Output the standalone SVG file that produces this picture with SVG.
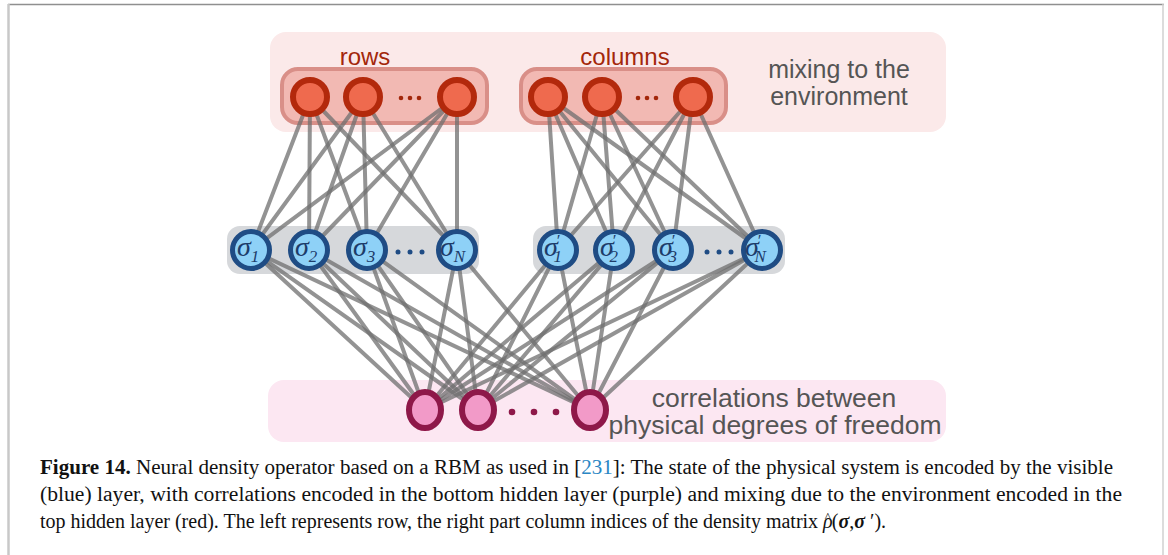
<svg xmlns="http://www.w3.org/2000/svg" width="1168" height="555" viewBox="0 0 1168 555">
<style>
.lbl{font-family:"Liberation Sans",Arial,sans-serif;fill:#555;text-anchor:middle}
.red{font-family:"Liberation Sans",Arial,sans-serif;fill:#a3270b;font-size:24px;text-anchor:middle}
.top{fill:#ef6a4e;stroke:#b3290c;stroke-width:6}
.vis{fill:#8ed1f7;stroke:#1f4c84;stroke-width:5}
.bot{fill:#f29ac8;stroke:#8e1849;stroke-width:6}
.sig{font-family:"Liberation Serif","Times New Roman",serif;font-style:italic;font-size:28px;fill:#1d3c6a}
.sub{font-size:17px}
.cap{font-family:"Liberation Serif","Times New Roman",serif;font-size:20px;fill:#111}
#connectors line{stroke:#6f6f6f;stroke-width:4;stroke-opacity:0.75;stroke-linecap:round}
</style>
<rect x="0" y="0" width="1168" height="555" fill="#fff"/>
<g id="frame">
<line x1="8" y1="4.5" x2="1164" y2="4.5" stroke="#8f8f8f" stroke-width="1.5"/>
<line x1="8.5" y1="4" x2="8.5" y2="555" stroke="#c8c8c8" stroke-width="2.5"/>
<line x1="1163" y1="4" x2="1163" y2="555" stroke="#d0d0d0" stroke-width="1.5"/>
</g>
<g id="backgrounds">
<rect x="270" y="32" width="676" height="100" rx="16" fill="#fbe9e9"/>
<rect x="282" y="69" width="205" height="54" rx="16" fill="#f2b9b3" stroke="#d98f88" stroke-width="4"/>
<rect x="521" y="69" width="205" height="54" rx="16" fill="#f2b9b3" stroke="#d98f88" stroke-width="4"/>
<rect x="227" y="226" width="252" height="48" rx="13" fill="#d6d8db"/>
<rect x="533" y="226" width="252" height="48" rx="13" fill="#d6d8db"/>
<rect x="268" y="380" width="678" height="62" rx="16" fill="#fce7f2"/>
</g>
<g id="connectors">
<line x1="310" y1="97" x2="251" y2="250"/><line x1="310" y1="97" x2="309" y2="250"/><line x1="310" y1="97" x2="367" y2="250"/><line x1="310" y1="97" x2="457" y2="250"/>
<line x1="363" y1="97" x2="251" y2="250"/><line x1="363" y1="97" x2="309" y2="250"/><line x1="363" y1="97" x2="367" y2="250"/><line x1="363" y1="97" x2="457" y2="250"/>
<line x1="457" y1="97" x2="251" y2="250"/><line x1="457" y1="97" x2="309" y2="250"/><line x1="457" y1="97" x2="367" y2="250"/><line x1="457" y1="97" x2="457" y2="250"/>
<line x1="548" y1="97" x2="558" y2="250"/><line x1="548" y1="97" x2="614" y2="250"/><line x1="548" y1="97" x2="673" y2="250"/><line x1="548" y1="97" x2="762" y2="250"/>
<line x1="602" y1="97" x2="558" y2="250"/><line x1="602" y1="97" x2="614" y2="250"/><line x1="602" y1="97" x2="673" y2="250"/><line x1="602" y1="97" x2="762" y2="250"/>
<line x1="693" y1="97" x2="558" y2="250"/><line x1="693" y1="97" x2="614" y2="250"/><line x1="693" y1="97" x2="673" y2="250"/><line x1="693" y1="97" x2="762" y2="250"/>
<line x1="425" y1="410" x2="251" y2="250"/><line x1="425" y1="410" x2="309" y2="250"/><line x1="425" y1="410" x2="367" y2="250"/><line x1="425" y1="410" x2="457" y2="250"/>
<line x1="425" y1="410" x2="558" y2="250"/><line x1="425" y1="410" x2="614" y2="250"/><line x1="425" y1="410" x2="673" y2="250"/><line x1="425" y1="410" x2="762" y2="250"/>
<line x1="478" y1="410" x2="251" y2="250"/><line x1="478" y1="410" x2="309" y2="250"/><line x1="478" y1="410" x2="367" y2="250"/><line x1="478" y1="410" x2="457" y2="250"/>
<line x1="478" y1="410" x2="558" y2="250"/><line x1="478" y1="410" x2="614" y2="250"/><line x1="478" y1="410" x2="673" y2="250"/><line x1="478" y1="410" x2="762" y2="250"/>
<line x1="590" y1="410" x2="251" y2="250"/><line x1="590" y1="410" x2="309" y2="250"/><line x1="590" y1="410" x2="367" y2="250"/><line x1="590" y1="410" x2="457" y2="250"/>
<line x1="590" y1="410" x2="558" y2="250"/><line x1="590" y1="410" x2="614" y2="250"/><line x1="590" y1="410" x2="673" y2="250"/><line x1="590" y1="410" x2="762" y2="250"/>
</g>
<g id="labels">
<text class="red" x="365" y="65">rows</text>
<text class="red" x="625" y="65">columns</text>
<text class="lbl" x="839" y="78" font-size="25">mixing to the</text>
<text class="lbl" x="839" y="105" font-size="25">environment</text>
<text class="lbl" x="774" y="407" font-size="26.5">correlations between</text>
<text class="lbl" x="775" y="434" font-size="26.5">physical degrees of freedom</text>
</g>
<g id="rows-layer">
<circle class="top" cx="310" cy="97" r="17"/>
<circle class="top" cx="363" cy="97" r="17"/>
<circle class="top" cx="457" cy="97" r="17"/>
<g fill="#a3270b"><circle cx="401" cy="98" r="2.3"/><circle cx="410" cy="98" r="2.3"/><circle cx="419" cy="98" r="2.3"/></g>
</g>
<g id="columns-layer">
<circle class="top" cx="548" cy="97" r="17"/>
<circle class="top" cx="602" cy="97" r="17"/>
<circle class="top" cx="693" cy="97" r="17"/>
<g fill="#a3270b"><circle cx="638" cy="98" r="2.3"/><circle cx="647" cy="98" r="2.3"/><circle cx="656" cy="98" r="2.3"/></g>
</g>
<g id="visible-left">
<circle class="vis" cx="251" cy="250" r="18.5"/>
<circle class="vis" cx="309" cy="250" r="18.5"/>
<circle class="vis" cx="367" cy="250" r="18.5"/>
<circle class="vis" cx="457" cy="250" r="18.5"/>
<text class="sig" x="237" y="256">σ<tspan class="sub" dy="6">1</tspan></text>
<text class="sig" x="295" y="256">σ<tspan class="sub" dy="6">2</tspan></text>
<text class="sig" x="353" y="256">σ<tspan class="sub" dy="6">3</tspan></text>
<text class="sig" x="440" y="256">σ<tspan class="sub" dy="6">N</tspan></text>
<g fill="#1f4c84"><circle cx="398" cy="252" r="2.5"/><circle cx="410" cy="252" r="2.5"/><circle cx="422" cy="252" r="2.5"/></g>
</g>
<g id="visible-right">
<circle class="vis" cx="558" cy="250" r="18.5"/>
<circle class="vis" cx="614" cy="250" r="18.5"/>
<circle class="vis" cx="673" cy="250" r="18.5"/>
<circle class="vis" cx="762" cy="250" r="18.5"/>
<text class="sig" x="544" y="256">σ<tspan class="sub" dx="-2" dy="-10">′</tspan><tspan class="sub" dx="-6" dy="16">1</tspan></text>
<text class="sig" x="600" y="256">σ<tspan class="sub" dx="-2" dy="-10">′</tspan><tspan class="sub" dx="-6" dy="16">2</tspan></text>
<text class="sig" x="659" y="256">σ<tspan class="sub" dx="-2" dy="-10">′</tspan><tspan class="sub" dx="-6" dy="16">3</tspan></text>
<text class="sig" x="745" y="256">σ<tspan class="sub" dx="-2" dy="-10">′</tspan><tspan class="sub" dx="-6" dy="16">N</tspan></text>
<g fill="#1f4c84"><circle cx="707" cy="252" r="2.5"/><circle cx="719" cy="252" r="2.5"/><circle cx="731" cy="252" r="2.5"/></g>
</g>
<g id="hidden-bottom">
<ellipse class="bot" cx="425" cy="410" rx="16" ry="18"/>
<ellipse class="bot" cx="478" cy="410" rx="16" ry="18"/>
<ellipse class="bot" cx="590" cy="410" rx="16" ry="18"/>
<g fill="#8e1849"><circle cx="512" cy="412" r="3.3"/><circle cx="534" cy="412" r="3.3"/><circle cx="556" cy="412" r="3.3"/></g>
</g>
<g id="caption">
<text class="cap" x="40" y="474" textLength="1073" lengthAdjust="spacingAndGlyphs"><tspan font-weight="bold">Figure 14.</tspan> Neural density operator based on a RBM as used in [<tspan fill="#2a86c4">231</tspan>]: The state of the physical system is encoded by the visible</text>
<text class="cap" x="40" y="501" textLength="1082" lengthAdjust="spacingAndGlyphs">(blue) layer, with correlations encoded in the bottom hidden layer (purple) and mixing due to the environment encoded in the</text>
<text class="cap" x="40" y="528">top hidden layer (red). The left represents row, the right part column indices of the density matrix <tspan font-style="italic">ρ</tspan><tspan font-size="13" dx="-8" dy="-7">^</tspan><tspan dx="1" dy="7">(</tspan><tspan font-style="italic" font-weight="bold">σ</tspan>,<tspan font-style="italic" font-weight="bold">σ</tspan> ′).</text>
</g>
</svg>
